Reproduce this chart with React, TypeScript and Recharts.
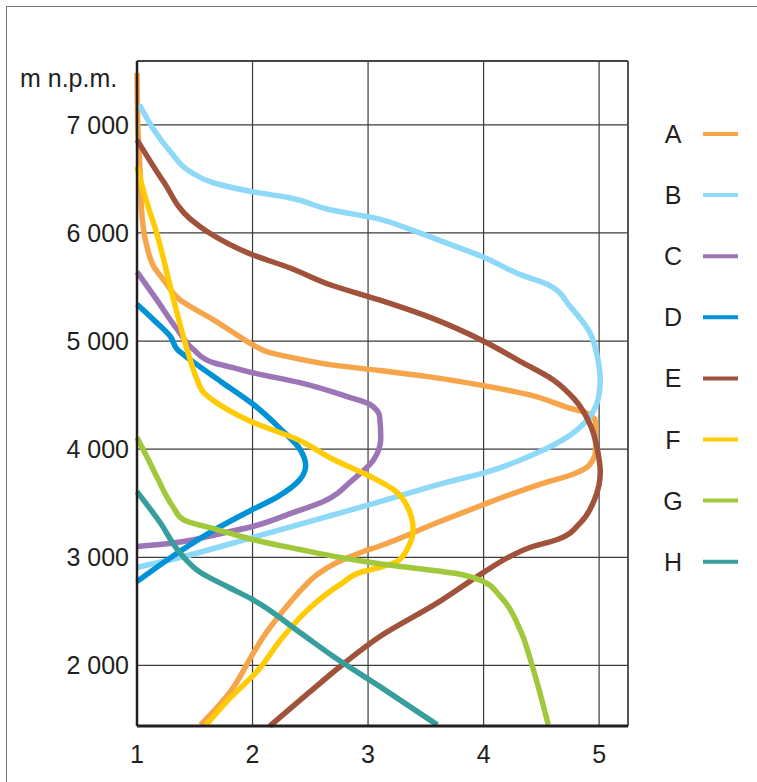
import React from 'react';
import {
  LineChart,
  Line,
  XAxis,
  YAxis,
  CartesianGrid,
  ReferenceLine,
  Customized,
} from 'recharts';

type Pt = { x: number; y: number };
const pts = (arr: number[][]): Pt[] => arr.map(([x, y]) => ({ x, y }));

// Series values: [x value, altitude m n.p.m.]
const seriesA = pts([
  [1.0, 7480], [1.01, 6900], [1.03, 6500], [1.04, 6200], [1.08, 5900], [1.15, 5680],
  [1.23, 5567], [1.37, 5383], [1.66, 5198], [1.89, 5040], [2.0, 4967], [2.15, 4893],
  [2.39, 4837], [2.67, 4782], [3.1, 4727], [3.52, 4671], [3.95, 4597], [4.39, 4505],
  [4.73, 4385], [4.9, 4330], [4.97, 4246], [4.97, 3996], [4.92, 3858], [4.78, 3770],
  [4.5, 3680], [4.23, 3580], [4.0, 3488], [3.6, 3322], [3.09, 3100], [2.96, 3054],
  [2.73, 2952], [2.56, 2841], [2.44, 2721], [2.26, 2499], [2.09, 2259], [2.0, 2102],
  [1.81, 1760], [1.55, 1450],
]);
const seriesB = pts([
  [1.02, 7185], [1.29, 6750], [1.46, 6566], [1.66, 6464], [2.0, 6381], [2.32, 6325],
  [2.67, 6214], [3.09, 6130], [3.37, 6030], [3.67, 5910], [4.01, 5771], [4.32, 5614],
  [4.56, 5521], [4.75, 5318], [4.92, 5078], [4.99, 4828], [5.01, 4630], [4.99, 4458],
  [4.9, 4274], [4.73, 4116], [4.47, 3969], [4.04, 3793], [3.67, 3691], [3.09, 3510],
  [2.0, 3183], [1.37, 2998], [1.0, 2906],
]);
const seriesC = pts([
  [1.0, 5640], [1.17, 5383], [1.35, 5105], [1.49, 4920], [1.66, 4800], [1.83, 4754],
  [2.0, 4708], [2.41, 4615], [2.82, 4486], [3.02, 4412], [3.1, 4300], [3.11, 4100],
  [3.05, 3904], [2.87, 3719], [2.6, 3510], [2.35, 3414], [2.0, 3285], [1.69, 3211],
  [1.4, 3146], [1.2, 3118], [1.0, 3100],
]);
const seriesD = pts([
  [1.0, 5340], [1.15, 5190], [1.29, 5040], [1.35, 4920], [1.46, 4828], [1.74, 4615],
  [2.0, 4420], [2.24, 4190], [2.41, 4000], [2.46, 3850], [2.41, 3719], [2.22, 3562],
  [2.0, 3442], [1.63, 3229], [1.37, 3054], [1.0, 2776],
]);
const seriesE = pts([
  [1.0, 6861], [1.23, 6473], [1.46, 6130], [1.61, 6011], [2.0, 5798], [2.32, 5678],
  [2.67, 5521], [3.09, 5383], [3.52, 5226], [4.01, 4994], [4.32, 4810], [4.6, 4643],
  [4.79, 4458], [4.93, 4209], [4.99, 3969], [5.01, 3790], [4.96, 3534], [4.84, 3322],
  [4.64, 3165], [4.4, 3091], [4.23, 3008], [4.0, 2860], [3.6, 2578], [3.09, 2259],
  [2.78, 2009], [2.47, 1732], [2.15, 1440],
]);
const seriesF = pts([
  [1.0, 6612], [1.08, 6300], [1.17, 6000], [1.31, 5410], [1.46, 4828], [1.52, 4643],
  [1.58, 4520], [1.66, 4450], [1.74, 4394], [2.0, 4250], [2.39, 4089], [2.7, 3904],
  [3.02, 3747], [3.22, 3627], [3.34, 3470], [3.39, 3257], [3.35, 3100], [3.25, 2961],
  [3.1, 2906], [2.96, 2869], [2.76, 2749], [2.5, 2536], [2.26, 2259], [2.04, 1945],
  [1.81, 1704], [1.6, 1450],
]);
const seriesG = pts([
  [1.0, 4107], [1.09, 3920], [1.17, 3747], [1.31, 3470], [1.4, 3349], [1.69, 3257],
  [2.0, 3165], [2.41, 3072], [2.76, 2998], [3.1, 2940], [3.81, 2841], [4.01, 2770],
  [4.13, 2656], [4.32, 2320], [4.42, 2000], [4.56, 1450],
]);
const seriesH = pts([
  [1.0, 3608], [1.2, 3322], [1.37, 3045], [1.55, 2860], [1.78, 2730], [2.0, 2610],
  [2.41, 2305], [2.7, 2083], [3.1, 1806], [3.6, 1450],
]);

const seriesNames = ['A', 'B', 'C', 'D', 'E', 'F', 'G', 'H'];
const seriesColors = ['#F7A54B', '#8ED8F8', '#9B75B5', '#0092D6', '#A0523A', '#FFCB05', '#A0C83A', '#379E9E'];
const seriesData = [seriesA, seriesB, seriesC, seriesD, seriesE, seriesF, seriesG, seriesH];

const xTicks = [1, 2, 3, 4, 5];
const yTicks = [2000, 3000, 4000, 5000, 6000, 7000];
const xDomain: [number, number] = [1, 5.25];
const yDomain: [number, number] = [1440, 7590];
const yUnitLabel = 'm n.p.m.';

const FONT = '"Liberation Sans", Arial, Helvetica, sans-serif';
const TEXT = '#231f20';
const LINE_W = 5.5;

const fmtThousands = (v: number) => String(v).replace(/\B(?=(\d{3})+(?!\d))/g, ' ');

const LegendBlock = () => (
  <g>
    {seriesNames.map((n, i) => {
      const cy = 134 + i * 61.1;
      return (
        <g key={n}>
          <text x={673} y={cy + 9} textAnchor="middle" fontSize={25} fontFamily={FONT} fill={TEXT}>
            {n}
          </text>
          <line x1={703} x2={738} y1={cy} y2={cy} stroke={seriesColors[i]} strokeWidth={4} />
        </g>
      );
    })}
  </g>
);

const UnitLabel = () => (
  <text x={20} y={87} fontSize={25} fontFamily={FONT} fill={TEXT}>
    {yUnitLabel}
  </text>
);

export default function App() {
  return (
    <div style={{ position: 'absolute', left: 0, top: 0, width: 757, height: 782, background: '#fff', overflow: 'hidden' }}>
      <div
        style={{
          position: 'absolute',
          left: 6,
          top: 6,
          width: 800,
          height: 800,
          borderLeft: '1px solid #777',
          borderTop: '1px solid #777',
        }}
      />
      <div style={{ position: 'absolute', left: 0, top: 0 }}>
        <LineChart
          width={757}
          height={782}
          layout="vertical"
          margin={{ top: 61, right: 129, bottom: 16, left: 37 }}
        >
          <CartesianGrid stroke="#3c3c3c" strokeWidth={1.2} />
          <XAxis
            type="number"
            dataKey="x"
            domain={xDomain}
            ticks={xTicks}
            height={40}
            tickLine={false}
            tickMargin={13}
            axisLine={{ stroke: '#231f20', strokeWidth: 3 }}
            tick={{ fontSize: 25, fontFamily: FONT, fill: TEXT }}
          />
          <YAxis
            type="number"
            dataKey="y"
            domain={yDomain}
            ticks={yTicks}
            reversed
            width={100}
            tickLine={false}
            tickFormatter={fmtThousands}
            axisLine={{ stroke: '#231f20', strokeWidth: 2.5 }}
            tick={{ fontSize: 25, fontFamily: FONT, fill: TEXT }}
          />
          <ReferenceLine y={yDomain[1]} stroke="#444" strokeWidth={2} />
          <ReferenceLine x={xDomain[1]} stroke="#444" strokeWidth={1.5} />
          {seriesData.map((d, i) => (
            <Line
              key={seriesNames[i]}
              name={seriesNames[i]}
              data={d}
              dataKey="x"
              type="monotone"
              stroke={seriesColors[i]}
              strokeWidth={LINE_W}
              style={{ strokeWidth: LINE_W }}
              strokeLinejoin="round"
              dot={false}
              activeDot={false}
              isAnimationActive={false}
            />
          ))}
          <Customized component={<LegendBlock />} />
          <Customized component={<UnitLabel />} />
        </LineChart>
      </div>
    </div>
  );
}
